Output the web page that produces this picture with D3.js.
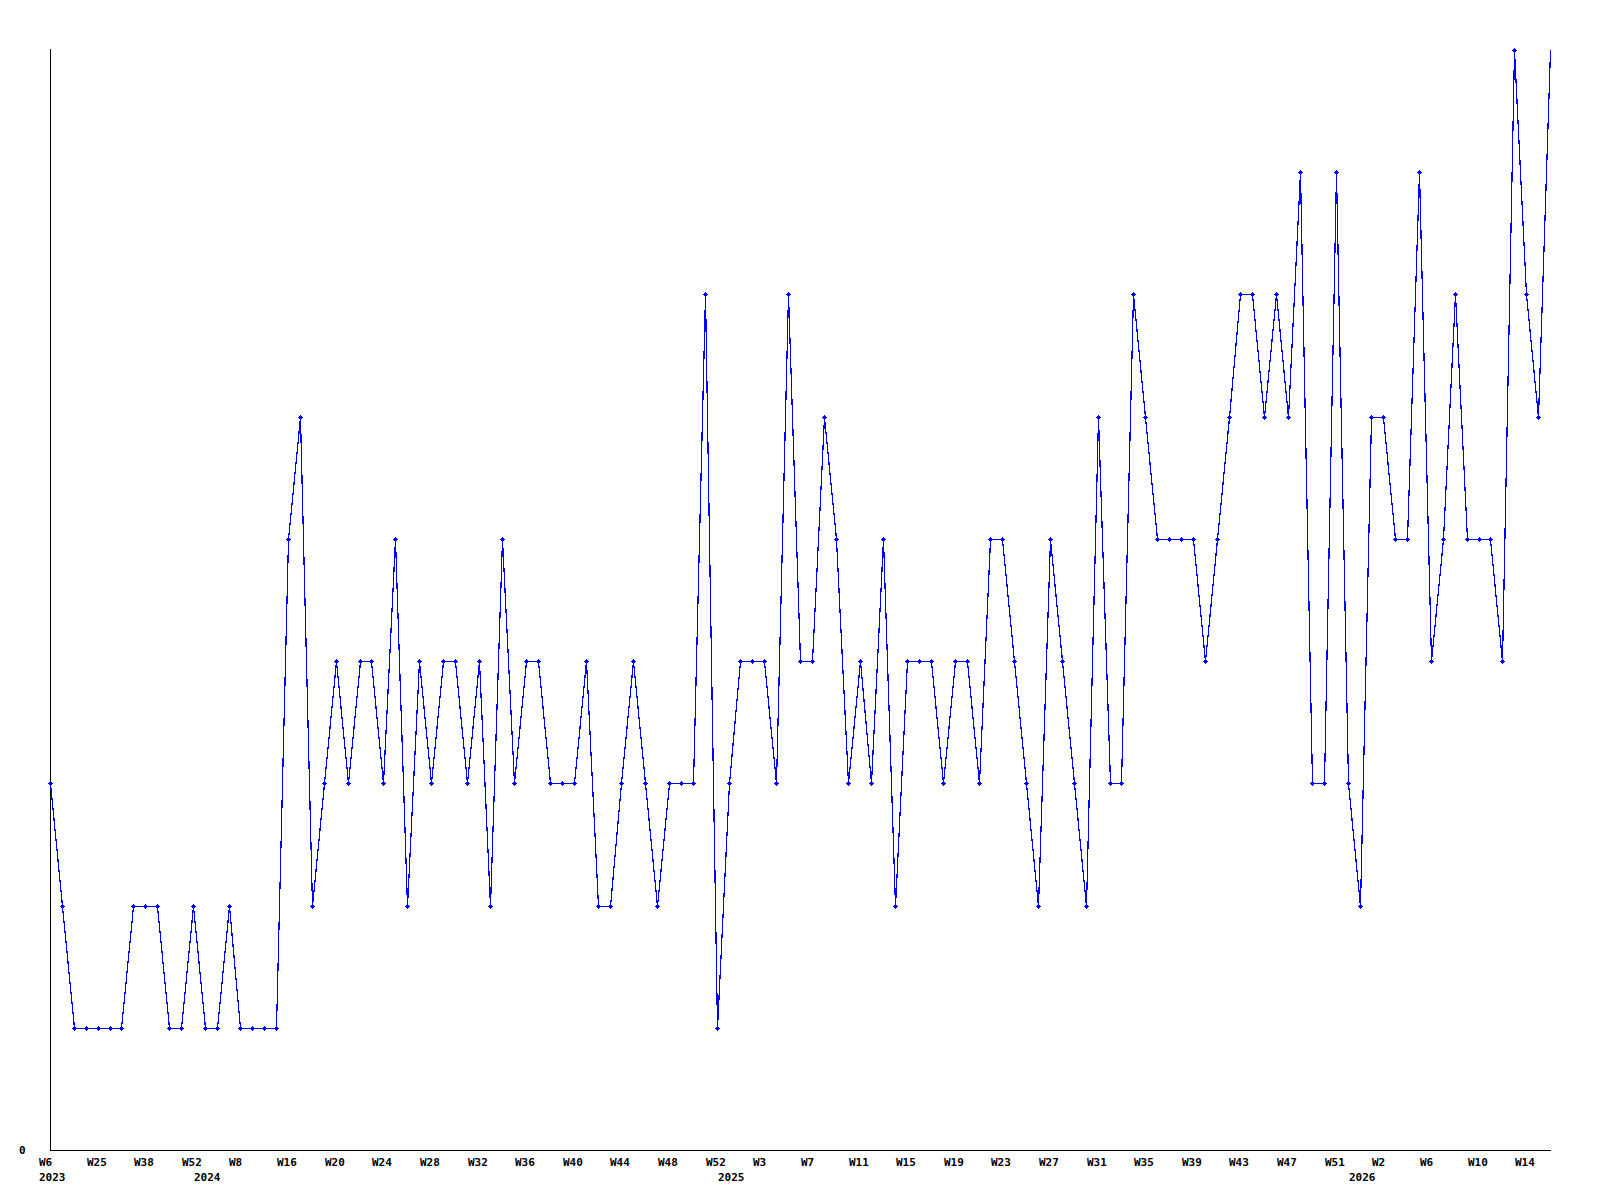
<!DOCTYPE html>
<html>
<head>
<meta charset="utf-8">
<script src="https://cdn.jsdelivr.net/npm/d3@7"></script>
<style>
  html, body { margin: 0; padding: 0; background: #fff; }
  svg { display: block; }
  text { font-family: "DejaVu Sans Mono", "Liberation Mono", monospace; font-weight: bold; font-size: 11px; fill: #000; }
</style>
</head>
<body>
<svg id="chart" width="1600" height="1200"></svg>
<script>
// Weekly categories (year-week)
const categories = [
  "2023-W6","2023-W10","2023-W14","2023-W20","2023-W25","2023-W29","2023-W32","2023-W35","2023-W38","2023-W42","2023-W45","2023-W49","2023-W52",
  "2024-W1","2024-W3","2024-W6","2024-W8","2024-W10","2024-W12","2024-W14","2024-W16","2024-W17","2024-W18","2024-W19","2024-W20",
  "2024-W21","2024-W22","2024-W23","2024-W24","2024-W25","2024-W26","2024-W27","2024-W28","2024-W29","2024-W30","2024-W31","2024-W32",
  "2024-W33","2024-W34","2024-W35","2024-W36","2024-W37","2024-W38","2024-W39","2024-W40","2024-W41","2024-W42","2024-W43","2024-W44",
  "2024-W45","2024-W46","2024-W47","2024-W48","2024-W49","2024-W50","2024-W51","2024-W52",
  "2025-W0","2025-W1","2025-W2","2025-W3","2025-W4","2025-W5","2025-W6","2025-W7","2025-W8","2025-W9","2025-W10","2025-W11",
  "2025-W12","2025-W13","2025-W14","2025-W15","2025-W16","2025-W17","2025-W18","2025-W19","2025-W20","2025-W21","2025-W22","2025-W23",
  "2025-W24","2025-W25","2025-W26","2025-W27","2025-W28","2025-W29","2025-W30","2025-W31","2025-W32","2025-W33","2025-W34","2025-W35",
  "2025-W36","2025-W37","2025-W38","2025-W39","2025-W40","2025-W41","2025-W42","2025-W43","2025-W44","2025-W45","2025-W46","2025-W47",
  "2025-W48","2025-W49","2025-W50","2025-W51","2025-W52",
  "2026-W0","2026-W1","2026-W2","2026-W3","2026-W4","2026-W5","2026-W6","2026-W7","2026-W8","2026-W9","2026-W10","2026-W11",
  "2026-W12","2026-W13","2026-W14","2026-W15","2026-W16"
];

const values = [
  3,2,1,1,1,1,1,2,2,2,1,1,2,1,1,2,1,1,1,1,
  5,6,2,3,4,3,4,4,3,5,2,4,3,4,4,3,4,2,5,3,
  4,4,3,3,3,4,2,2,3,4,3,2,3,3,3,7,1,3,4,4,
  4,3,7,4,4,6,5,3,4,3,5,2,4,4,4,3,4,4,3,5,
  5,4,3,2,5,4,3,2,6,3,3,7,6,5,5,5,5,4,5,6,
  7,7,6,7,6,8,3,3,8,3,2,6,6,5,5,8,4,5,7,5,
  5,5,4,9,7,6,9
];

const yTickValues = [0];
const labelEvery = 4;

(function () {
const svg = d3.select("#chart");
const mLeft = 50, mRight = 1550, mTop = 50, mBottom = 1150;

const x = d3.scalePoint().domain(categories).range([mLeft, mRight]);
const y = d3.scaleLinear().domain([0, 9]).range([mBottom, mTop]);

const data = categories.map((c, i) => ({ cat: c, year: c.split("-")[0], week: c.split("-")[1], v: values[i], i }));
const px = d => Math.round(x(d.cat)) + 0.5;
const py = d => Math.round(y(d.v)) + 0.5;

// axes lines
svg.append("line").attr("x1", mLeft + 0.5).attr("x2", mLeft + 0.5).attr("y1", mTop - 1).attr("y2", mBottom + 0.5)
  .attr("stroke", "#000").attr("stroke-width", 1).attr("shape-rendering", "crispEdges");
svg.append("line").attr("x1", mLeft).attr("x2", mRight + 1).attr("y1", mBottom + 0.5).attr("y2", mBottom + 0.5)
  .attr("stroke", "#000").attr("stroke-width", 1).attr("shape-rendering", "crispEdges");

// y tick label
svg.selectAll(".ylab").data(yTickValues).enter().append("text")
  .attr("class", "ylab").attr("x", 19).attr("y", d => y(d) + 4).text(d => d);

// x labels
const labeled = data.filter(d => d.i % labelEvery === 0);
svg.selectAll(".xlab").data(labeled).enter().append("text")
  .attr("class", "xlab").attr("x", d => Math.round(x(d.cat)) - 11).attr("y", 1166).text(d => d.week);

// year labels at first point of each year
const firstOfYear = data.filter((d, i) => i === 0 || data[i - 1].year !== d.year);
svg.selectAll(".yrlab").data(firstOfYear).enter().append("text")
  .attr("class", "yrlab").attr("x", d => Math.round(x(d.cat)) - 11).attr("y", 1181).text(d => d.year);

// line
const line = d3.line().x(px).y(py);
svg.append("path").datum(data).attr("d", line)
  .attr("fill", "none").attr("stroke", "#0000ff").attr("stroke-width", 1.2)
  .attr("shape-rendering", "crispEdges");

// markers (last, incomplete point has none)
const marker = "M-1.5,-1.5h3v3h-3z M-2.5,-0.5h5v1h-5z M-0.5,-2.5h1v5h-1z";
svg.selectAll(".pt").data(data.slice(0, data.length - 1)).enter().append("path")
  .attr("class", "pt")
  .attr("transform", d => `translate(${px(d)},${py(d)})`)
  .attr("d", marker).attr("fill", "#0000ff").attr("shape-rendering", "crispEdges");
})();
</script>
</body>
</html>
